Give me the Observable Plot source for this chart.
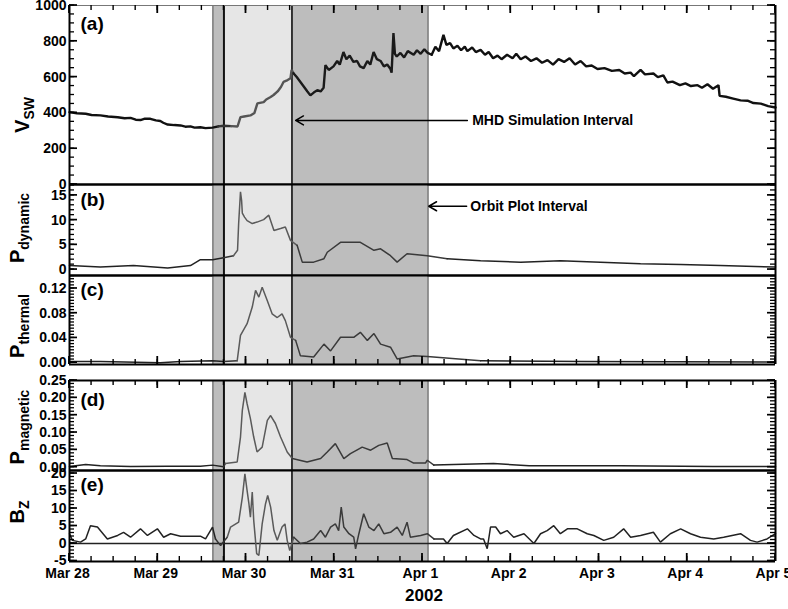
<!DOCTYPE html>
<html><head><meta charset="utf-8">
<script src="https://cdn.jsdelivr.net/npm/d3@7"></script>
<script src="https://cdn.jsdelivr.net/npm/@observablehq/plot@0.6"></script>
<style>
body{margin:0;background:#fff;}
#chart{position:relative;width:788px;height:609px;overflow:hidden;background:#fff;font-family:"Liberation Sans",Arial,sans-serif;}
#chart svg{position:absolute;left:0;}
</style></head><body><div id="chart"></div>
<script>
// ---- time axis: hours since 2002-03-28 00:00 UT ----
const startDay = [2002, 2, 28];
const endHour = 192;

// ---- shaded intervals (hours) ----
const bandStarts = [39, 42, 60.5];
const bandEnds = [42, 60.5, 97.5];
const bandFills = ["#bdbdbd", "#e6e6e6", "#bdbdbd"];
const bandLineHours = [39, 42, 60.5, 97.5];
const bandLineColors = ["#555", "#111", "#111", "#555"];
const bandLineWidths = [1, 2, 1.6, 1.2];

// ---- (a) V_SW ----
const vswHours = [0, 2, 4.4, 6, 8.4, 10.5, 13.1, 15, 16.6, 18, 19.3, 20.5, 22, 23.5, 24.7, 25.5, 26.7, 28.5, 30.2, 31.5, 32.9, 34, 35.6, 37, 38.9, 40.5, 41.9, 44, 45.7,
  46.5, 47.5, 49.2, 50.3, 51.1, 52.8, 53.5, 54.7, 55.5, 56.6, 57.5, 58.2, 59, 60.1,
  60.4, 60.9, 61.8, 62.8, 63.8, 64.7, 65.5, 66.5, 67.4, 68.3, 69.1,
  69.6, 70.5, 71.8, 72.8, 73.5, 74.5, 75.3, 76.2, 77.2, 78.2, 79, 80, 81, 81.8, 82.7, 83.6, 84.6, 85.5, 86.4, 87.3, 87.6, 88.1, 88.5, 89, 90, 91, 92, 93.6, 94.5, 95.5, 96.5, 97.4,
  98.5, 99.5, 100.5, 101.7, 102.5, 103.5, 104.4, 105.5, 106.5, 107.5, 108.2, 109.5, 110.5, 111.8, 113, 114, 115.2, 116.4, 117.5, 119, 120.5, 121.5, 122.7, 124, 125.5, 127, 128.5, 130, 131.5, 133, 134.5, 136, 137.5, 139, 140.5, 142, 143.6, 145.5, 147.5, 149.5, 151, 152.6, 153.5, 155.3, 156.5, 158.8, 160, 161.5, 162.6, 164, 166, 167.5, 169, 170.8, 172, 173.5, 175, 176.5, 176.8, 178.5, 180.5, 182.5, 184.4, 186, 188, 190, 192];
const vswValues = [404, 398, 395, 388, 386, 380, 376, 370, 372, 362, 360, 368, 367, 358, 355, 345, 335, 332, 330, 323, 325, 318, 320, 315, 318, 325, 328, 326, 324,
  376, 380, 386, 400, 453, 460, 475, 489, 500, 520, 545, 573, 580, 594,
  640, 622, 600, 573, 545, 520, 498, 515, 527, 520, 540,
  667, 640, 660, 690, 670, 740, 700, 720, 685, 690, 660, 650, 690, 670, 740, 700, 690, 660, 670, 645, 625, 846, 730, 715, 735, 710, 745, 725, 750, 730, 755, 735,
  725, 770, 745, 836, 780, 790, 760, 775, 750, 770, 745, 765, 740, 752, 725, 740, 705, 720, 700, 725, 705, 730, 700, 715, 690, 705, 680, 695, 670, 700, 685, 705, 670, 690, 660, 665, 645, 650, 635, 640, 620, 625, 605, 640, 615, 620, 600, 610, 570, 575, 555, 565, 550, 555, 540, 560, 535, 555, 495, 490, 480, 470, 468, 455, 452, 438, 430];

// ---- (b) P_dynamic ----
const pdynHours = [0, 8.4, 17.4, 26.7, 32.9, 35.6, 38.9, 41.9, 44.6, 45.7, 46.0, 46.5, 46.8, 47.0, 47.6, 48.3, 49.7, 51.0, 52.8, 54.2, 55.6, 57.4, 58.7, 60.1, 61.9, 63.3, 66.4, 69.2, 70.1, 73.7, 79.1, 82.8, 84.6, 87.3, 89.1, 91.8, 97.3, 102.7, 111.8, 122.7, 133.5, 144.4, 155.3, 166.2, 177.0, 192];
const pdynValues = [0.8, 0.5, 0.8, 0.3, 0.8, 2.0, 2.0, 2.4, 2.8, 3.9, 9.3, 15.7, 14.0, 11.4, 10.6, 9.9, 9.3, 9.6, 10.1, 11.0, 7.9, 8.3, 8.6, 5.9, 4.9, 1.5, 1.5, 2.2, 3.5, 5.5, 5.5, 3.9, 4.2, 2.8, 1.5, 3.2, 2.8, 2.2, 1.8, 1.5, 1.8, 1.5, 1.2, 1.0, 0.8, 0.5];

// ---- (c) P_thermal ----
const pthHours = [0, 8.4, 24.7, 30.2, 38.9, 41.9, 45.6, 46.5, 48.3, 49.7, 50.6, 51.5, 52.4, 53.8, 55.1, 56.5, 57.8, 58.7, 60.1, 61.5, 62.8, 66.4, 69.2, 71.0, 73.7, 77.3, 79.1, 81.0, 82.8, 84.6, 87.3, 89.1, 93.6, 97.3, 111.8, 140, 192];
const pthValues = [0.002, 0.002, 0.0, 0.002, 0.003, 0.002, 0.003, 0.044, 0.063, 0.09, 0.117, 0.106, 0.122, 0.10, 0.079, 0.073, 0.079, 0.068, 0.041, 0.036, 0.011, 0.009, 0.03, 0.019, 0.041, 0.041, 0.049, 0.036, 0.047, 0.03, 0.025, 0.006, 0.011, 0.01, 0.003, 0.002, 0.001];

// ---- (d) P_magnetic ----
const pmagHours = [0, 4.4, 8.4, 16.6, 26.7, 35.6, 38.9, 41.9, 42.4, 45.6, 46.5, 47.0, 47.7, 48.3, 49.2, 50.1, 51.0, 52.4, 53.8, 54.7, 56.0, 57.4, 59.2, 60.6, 64.6, 68.3, 70.1, 72.3, 74.6, 76.4, 79.6, 81.9, 84.1, 86.4, 87.8, 91.8, 93.6, 96.8, 97.3, 99.1, 115.3, 125, 150, 175, 192];
const pmagValues = [0.002, 0.008, 0.004, 0.002, 0.003, 0.003, 0.006, 0.001, 0.011, 0.015, 0.087, 0.164, 0.216, 0.183, 0.14, 0.087, 0.044, 0.058, 0.135, 0.149, 0.126, 0.087, 0.044, 0.025, 0.015, 0.025, 0.044, 0.068, 0.025, 0.039, 0.058, 0.049, 0.063, 0.07, 0.025, 0.022, 0.012, 0.012, 0.02, 0.006, 0.011, 0.004, 0.004, 0.002, 0.002];

// ---- (e) B_Z ----
const bzHours = [0, 0.8, 3.0, 4.4, 5.7, 7.6, 10.3, 13.1, 14.7, 16.6, 19.3, 21.2, 23.9, 25.6, 27.5, 30.2, 35.6, 37.0, 38.9, 39.7, 41.1, 41.5, 42.9, 43.8, 46.0, 47.0, 47.7, 48.3, 48.8, 49.2, 49.7, 50.1, 50.9, 51.5, 52.4, 53.3, 53.9, 54.7, 55.6, 56.5, 57.8, 58.6, 59.2, 59.9, 61.0, 62.8, 64.6, 66.4, 68.3, 69.6, 71.0, 72.3, 73.2, 73.9, 74.6, 76.0, 77.3, 77.8, 78.7, 80.0, 81.4, 82.8, 84.1, 85.5, 87.3, 89.1, 90.5, 91.8, 92.7, 95.5, 97.3, 99.1, 101.7, 102.7, 104.4, 108.2, 110.0, 111.8, 112.6, 113.6, 114.5, 115.9, 117.2, 119.0, 120.8, 123.6, 126.3, 128.1, 129.9, 131.7, 133.5, 135.4, 138.1, 140.8, 142.6, 145.3, 148.0, 150.7, 152.6, 155.3, 158.8, 160.7, 163.4, 166.2, 168.9, 171.6, 175.2, 177.9, 182.5, 185.2, 187.0, 189.7, 192];
const bzValues = [2.8, 0.9, 0.4, 1.3, 5.1, 4.7, 1.3, 2.3, 3.2, 1.8, 4.2, 2.3, 4.2, 1.8, 2.8, 2.1, 2.1, 1.3, 4.7, 1.3, -0.6, 0, 1.8, 4.7, 6.1, 13.2, 19.9, 15.1, 11.3, 7.5, 14.7, 6.6, -2.9, -3.4, 5.6, 11.3, 13.7, 10.4, 3.7, 0.9, 4.7, 5.6, 0.9, -2.0, 1.8, 0, 0.4, 1.3, 3.7, 1.8, 4.7, 5.6, 3.7, 10.4, 4.7, 2.8, 1.8, -1.5, 2.8, 8.5, 4.7, 3.7, 5.6, 2.8, 3.2, 4.7, 2.3, 6.1, 1.8, 2.3, 2.8, 1.3, 1.3, 0, 2.3, 4.2, 2.3, 1.3, 1.3, -1.5, 4.7, 4.7, 2.8, 3.7, 1.8, 2.8, 0, 2.8, 3.7, 5.1, 2.8, 4.2, 4.2, 2.8, 2.3, 0.9, 1.8, 4.2, 1.8, 2.3, 3.2, 0.4, 2.8, 4.2, 2.8, 1.8, 1.3, 1.8, 2.8, 0.9, 0.4, 1.3, 2.8];

// ---- annotations ----
const annText = ["MHD Simulation Interval", "Orbit Plot Interval"];
const annFromHour = [108.2, 108.0];
const annToHour = [61.5, 97.7];
const annLevel = [358, 12.8];
const annTextHour = [109.5, 109.0];

// ---- tick labels ----
const vswTicks = [0, 200, 400, 600, 800, 1000];
const pdynTicks = [0, 5, 10, 15];
const pthTicks = [0, 0.04, 0.08, 0.12];
const pmagTicks = [0, 0.05, 0.10, 0.15, 0.20, 0.25];
const bzTicks = [-5, 0, 5, 10, 15, 20];

// ============ drawing ============
const W = 788, ML = 69, MR = 13;
const T0 = Date.UTC(startDay[0], startDay[1], startDay[2]);
const toDate = h => new Date(T0 + h * 3600e3);
const xDomain = [toDate(0), toDate(endHour)];
const dayTicks = d3.utcDay.range(toDate(0), toDate(endHour + 0.1));
const sixTicks = d3.utcHour.every(6).range(toDate(0), toDate(endHour + 0.1));
const chart = document.getElementById("chart");
const FONT = "'Liberation Sans', Arial, Helvetica, sans-serif";

function range(a, b, s) { const out = []; const n = Math.round((b - a) / s); for (let i = 0; i <= n; i++) out.push(+(a + i * s).toFixed(6)); return out; }
function regionOf(h) { return bandLineHours.filter(b => h >= b).length; }

function lineMarks(hours, values, colors, sw) {
  const groups = colors.map(() => []);
  for (let i = 0; i < hours.length; i++) {
    const r = regionOf(hours[i]);
    groups[r].push({t: toDate(hours[i]), v: values[i]});
    if (i + 1 < hours.length && regionOf(hours[i + 1]) !== r) groups[r].push({t: toDate(hours[i + 1]), v: values[i + 1]});
  }
  return groups.map((g, k) => Plot.line(g, {x: "t", y: "v", stroke: colors[k], strokeWidth: sw, strokeLinejoin: "miter"}));
}

// inward ticks, positioned through the plot's own scales
function addInwardTicks(svg, cfg, mT, h) {
  const ys = svg.scale("y"), xs = svg.scale("x");
  const g = d3.select(svg).append("g").attr("stroke", "#000").attr("fill", "none");
  const xl = ML, xr = W - MR;
  const yTick = (vals, len, sw) => vals.forEach(v => {
    const y = ys.apply(v);
    g.append("line").attr("x1", xl).attr("x2", xl + len).attr("y1", y).attr("y2", y).attr("stroke-width", sw);
    g.append("line").attr("x1", xr - len).attr("x2", xr).attr("y1", y).attr("y2", y).attr("stroke-width", sw);
  });
  yTick(cfg.minor, 5, 1.3);
  yTick(cfg.major, 8, 1.7);
  if (cfg.xTicks) {
    const xTick = (vals, len, sw) => vals.forEach(d => {
      const x = xs.apply(d);
      const [y1, y2] = cfg.xTicks === "top" ? [mT, mT + len] : [mT + h - len, mT + h];
      g.append("line").attr("x1", x).attr("x2", x).attr("y1", y1).attr("y2", y2).attr("stroke-width", sw);
    });
    xTick(sixTicks, 5, 1.4);
    xTick(dayTicks, 8, 1.8);
  }
}

function panel(cfg) {
  const mT = 8, mB = cfg.xLabels ? 50 : 8;
  const h = cfg.bottom - cfg.top;
  const bands = bandStarts.map((s, i) => ({x1: toDate(s), x2: toDate(bandEnds[i]), fill: bandFills[i]}));
  const blines = bandLineHours.map((hh, i) => ({t: toDate(hh), c: bandLineColors[i], w: bandLineWidths[i]}));
  const marks = [
    Plot.rect(bands, {x1: "x1", x2: "x2", fill: "fill"}),
    ...blines.map(b => Plot.ruleX([b.t], {stroke: b.c, strokeWidth: b.w})),
    Plot.axisY(cfg.major, {anchor: "left", tickSize: 0, tickPadding: 3, tickFormat: cfg.fmt, label: null, fontSize: 14, fontWeight: "bold"})
  ];
  if (cfg.xLabels) {
    marks.push(Plot.axisX(dayTicks, {anchor: "bottom", tickSize: 0, tickPadding: 7, dx: -2, label: null, tickFormat: d3.utcFormat("%b %-d"), fontSize: 14, fontWeight: "bold"}));
  }
  if (cfg.zero) marks.push(Plot.ruleY([0], {stroke: "#222", strokeWidth: 1.5}));
  marks.push(...lineMarks(cfg.hours, cfg.values, cfg.colors, cfg.sw));
  if (cfg.extra) marks.push(...cfg.extra);
  marks.push(
    Plot.ruleY([cfg.yDomain[0]], {stroke: "#000", strokeWidth: 2}),
    Plot.ruleY([cfg.yDomain[1]], {stroke: cfg.topColor || "#000", strokeWidth: cfg.topColor ? 1.2 : 2}),
    Plot.ruleX(xDomain, {stroke: "#000", strokeWidth: 2}),
    Plot.text([cfg.label], {frameAnchor: "top-left", dx: 11, dy: cfg.labelDy, lineAnchor: "top", fontSize: 19, fontWeight: "bold", fill: "#000"})
  );
  const svg = Plot.plot({
    width: W, height: h + mT + mB,
    marginLeft: ML, marginRight: MR, marginTop: mT, marginBottom: mB,
    x: {type: "utc", domain: xDomain, axis: null},
    y: {domain: cfg.yDomain, axis: null},
    color: {type: "identity"},
    style: {background: "transparent", overflow: "visible", fontFamily: FONT, color: "#000"},
    marks
  });
  addInwardTicks(svg, cfg, mT, h);
  svg.style.top = (cfg.top - mT) + "px";
  chart.append(svg);
}

const colorsA = ["#111", "#333", "#555", "#1a1a1a", "#111"];
const colorsB = ["#222", "#333", "#5a5a5a", "#3a3a3a", "#222"];

panel({top: 5, bottom: 184, yDomain: [0, 1000], major: vswTicks, minor: range(0, 1000, 50), fmt: d => String(d),
  hours: vswHours, values: vswValues, colors: colorsA, sw: 2.4, label: "(a)", labelDy: 11, xTicks: "top", topColor: "#777",
  extra: [
    Plot.arrow([0], {x1: () => toDate(annFromHour[0]), x2: () => toDate(annToHour[0]), y1: () => annLevel[0], y2: () => annLevel[0], stroke: "#000", strokeWidth: 1.5, headLength: 9}),
    Plot.text([0], {x: () => toDate(annTextHour[0]), y: () => annLevel[0], text: () => annText[0], textAnchor: "start", fontSize: 14, fontWeight: "bold", fill: "#000"})
  ]});
panel({top: 184, bottom: 275, yDomain: [-1.2, 17.2], major: pdynTicks, minor: range(0, 17, 1), fmt: d => String(d),
  hours: pdynHours, values: pdynValues, colors: colorsB, sw: 1.5, label: "(b)", labelDy: 8,
  extra: [
    Plot.arrow([0], {x1: () => toDate(annFromHour[1]), x2: () => toDate(annToHour[1]), y1: () => annLevel[1], y2: () => annLevel[1], stroke: "#000", strokeWidth: 1.5, headLength: 9}),
    Plot.text([0], {x: () => toDate(annTextHour[1]), y: () => annLevel[1], text: () => annText[1], textAnchor: "start", fontSize: 14, fontWeight: "bold", fill: "#000"})
  ]});
panel({top: 275, bottom: 364, yDomain: [-0.003, 0.141], major: pthTicks, minor: range(0, 0.14, 0.005), fmt: d3.format(".2f"),
  hours: pthHours, values: pthValues, colors: colorsB, sw: 1.5, label: "(c)", labelDy: 7, xTicks: "bottom"});
panel({top: 380, bottom: 470, yDomain: [-0.0095, 0.25], major: pmagTicks, minor: range(0, 0.25, 0.01), fmt: d3.format(".2f"),
  hours: pmagHours, values: pmagValues, colors: colorsB, sw: 1.5, label: "(d)", labelDy: 12, xTicks: "top"});
panel({top: 470, bottom: 561, yDomain: [-5.14, 20.86], major: bzTicks, minor: range(-5, 20, 1), fmt: d => String(d),
  hours: bzHours, values: bzValues, colors: colorsB, sw: 1.5, label: "(e)", labelDy: 7, xTicks: "bottom", xLabels: true, zero: true});

// ---- axis titles with subscripts, and year label ----
const overlay = d3.create("svg").attr("width", W).attr("height", 609).style("top", "0px").style("pointer-events", "none")
  .attr("font-family", FONT).attr("font-weight", "bold");
const titles = [
  {main: "V", sub: "SW", x: 29, y: 115},
  {main: "P", sub: "dynamic", x: 24, y: 228},
  {main: "P", sub: "thermal", x: 24, y: 326},
  {main: "P", sub: "magnetic", x: 24, y: 427},
  {main: "B", sub: "Z", x: 24, y: 512}
];
titles.forEach(t => {
  const tx = overlay.append("text").attr("transform", `translate(${t.x},${t.y}) rotate(-90)`).attr("text-anchor", "middle").attr("font-size", 20);
  tx.append("tspan").text(t.main);
  tx.append("tspan").attr("font-size", 14).attr("dy", 5).text(t.sub);
});
overlay.append("text").attr("x", 424).attr("y", 601).attr("text-anchor", "middle").attr("font-size", 17).text("2002");
chart.append(overlay.node());
</script></body></html>
